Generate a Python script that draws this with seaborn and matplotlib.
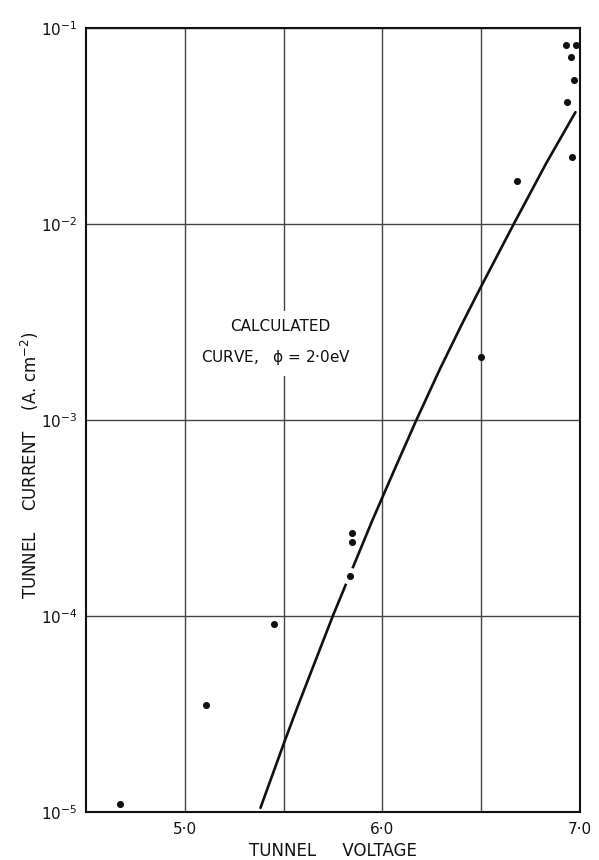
import numpy as np
import pandas as pd
import matplotlib
matplotlib.use("Agg")
import matplotlib.pyplot as plt
import seaborn as sns

# Measured points (tunnel voltage, current density)
meas_voltage = [4.673, 5.109, 5.449, 5.835, 5.845, 5.845, 6.50, 6.683,
                6.962, 6.935, 6.97, 6.955, 6.93, 6.98]
meas_current = [1.1e-5, 3.5e-5, 9.1e-5, 1.6e-4, 2.65e-4, 2.39e-4, 2.1e-3, 1.65e-2,
                2.2e-2, 4.2e-2, 5.4e-2, 7.1e-2, 8.2e-2, 8.2e-2]
# the point where the drawn curve is broken
gap_voltage = [5.835]
gap_current = [1.6e-4]

# Calculated curve, phi = 2.0 eV
calc_voltage = [5.383, 5.502, 5.57, 5.749, 5.95, 6.06, 6.170, 6.29, 6.40, 6.490,
                6.667, 6.83, 6.977]
calc_current = [1.05e-5, 2.25e-5, 3.43e-5, 1.0e-4, 3.09e-4, 5.55e-4, 9.9e-4,
                1.81e-3, 3.05e-3, 4.6e-3, 1.01e-2, 2.05e-2, 3.72e-2]

x_ticks = [5.0, 5.5, 6.0, 6.5, 7.0]
x_ticklabels = ["5·0", "", "6·0", "", "7·0"]
y_ticks = [1e-5, 1e-4, 1e-3, 1e-2, 1e-1]
y_ticklabels = [r"$10^{-5}$", r"$10^{-4}$", r"$10^{-3}$", r"$10^{-2}$", r"$10^{-1}$"]

sns.set_theme(style="white")
plt.rcParams["font.family"] = ["DejaVu Sans"]
plt.rcParams["mathtext.default"] = "regular"

meas = pd.DataFrame({"V": meas_voltage, "J": meas_current})
gap = pd.DataFrame({"V": gap_voltage, "J": gap_current})
calc = pd.DataFrame({"V": calc_voltage, "J": calc_current})

fig = plt.figure(figsize=(5.99, 8.60), dpi=100)
ax = fig.add_axes([86/599, 1-812/860, (580-86)/599, (812-28)/860])

sns.lineplot(data=calc, x="V", y="J", ax=ax, color="#111111", linewidth=1.9,
             sort=False, estimator=None, zorder=3)
# white halo so the curve is broken around this point
sns.scatterplot(data=gap, x="V", y="J", ax=ax, color="white", s=150,
                linewidth=0, zorder=4)
sns.scatterplot(data=meas, x="V", y="J", ax=ax, color="#111111", s=26,
                linewidth=0, zorder=5)

ax.set_yscale("log")
ax.set_xlim(4.5, 7.0)
ax.set_ylim(1e-5, 1e-1)
ax.set_xticks(x_ticks)
ax.set_xticklabels(x_ticklabels)
ax.set_yticks(y_ticks)
ax.set_yticklabels(y_ticklabels)
ax.minorticks_off()
ax.tick_params(axis="x", length=0, pad=7, labelsize=11, colors="#111111")
ax.tick_params(axis="y", length=0, pad=6, labelsize=11, colors="#111111")

ax.grid(True, which="major", color="#444444", linewidth=1.0, zorder=0)
ax.set_axisbelow(True)
for sp in ax.spines.values():
    sp.set_visible(True)
    sp.set_color("#111111")
    sp.set_linewidth(1.5)
    sp.set_zorder(6)

ax.set_xlabel("TUNNEL     VOLTAGE", fontsize=12, color="#111111", labelpad=4)
ax.set_ylabel("")
fig.text(30/599, 1-465/860, r"TUNNEL    CURRENT    (A. cm$^{-2}$)", rotation=90,
         ha="center", va="center", fontsize=12, color="#111111")

ax.text(5.227, 10**(-1 - (327-28)/196), "CALCULATED", fontsize=11, color="#111111",
        ha="left", va="center",
        bbox=dict(facecolor="white", edgecolor="none", pad=6), zorder=5)
ax.text(5.08, 10**(-1 - (358-28)/196), r"CURVE,   $\phi$ = 2·0eV", fontsize=11,
        color="#111111", ha="left", va="center",
        bbox=dict(facecolor="white", edgecolor="none", pad=6), zorder=5)

fig.savefig("out.png", dpi=100)
